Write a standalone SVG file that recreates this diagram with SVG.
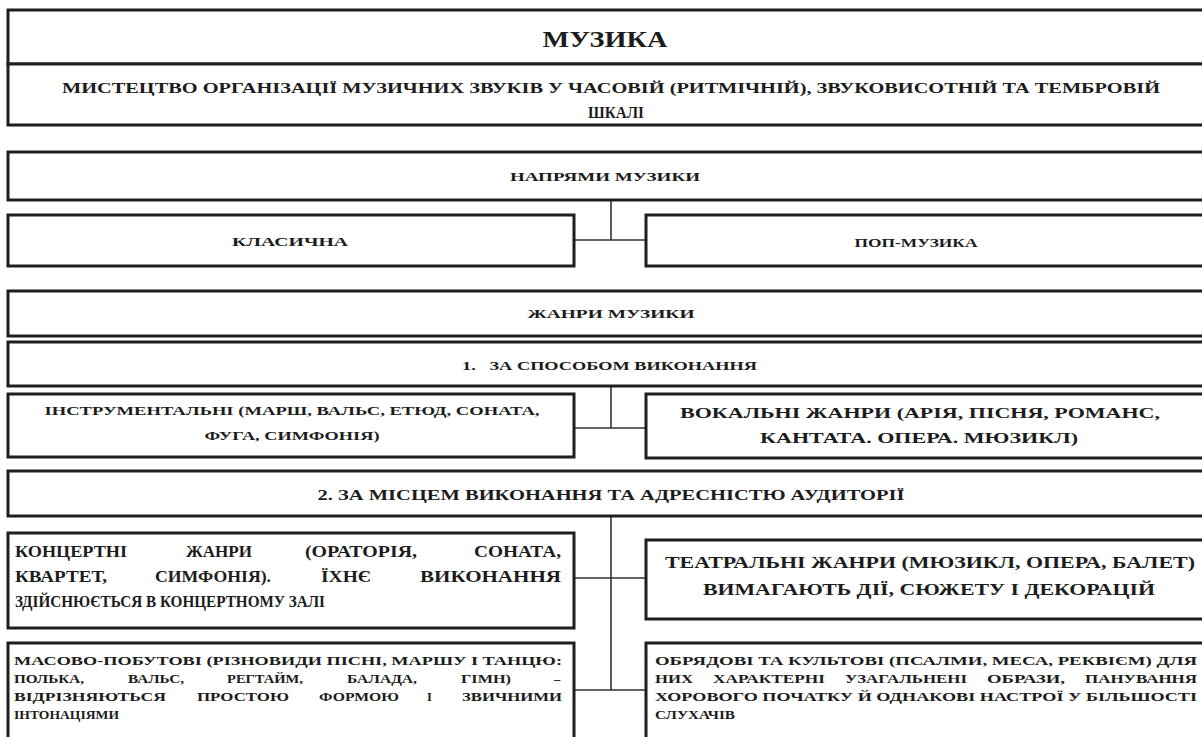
<svg xmlns="http://www.w3.org/2000/svg" width="1202" height="737" viewBox="0 0 1202 737">
<style>
.box{fill:#fff;stroke:#1e1e1e;stroke-width:3}
.con{fill:none;stroke:#333;stroke-width:1.6}
text{font-family:"Liberation Serif","Times New Roman",serif;font-weight:bold;fill:#1c1c1c}
.c{text-anchor:middle}
.k{font-size:16px}
.s{font-size:12.5px}
</style>
<rect width="1202" height="737" fill="#fff"/>
<g id="connectors">
<path class="con" d="M611 200V240M574 240H646M611 386V428M574 428H646M611 516V690M574 578H646M574 690H646"/>
</g>
<g id="muzyka">
<rect class="box" x="8" y="10" width="1204" height="54"/>
<text class="c" x="605" y="47" font-size="23" textLength="125" lengthAdjust="spacingAndGlyphs">МУЗИКА</text>
</g>
<g id="definition">
<rect class="box" x="8" y="64" width="1204" height="61"/>
<text class="c" x="611" y="93" font-size="15" textLength="1098" lengthAdjust="spacingAndGlyphs">МИСТЕЦТВО ОРГАНІЗАЦІЇ МУЗИЧНИХ ЗВУКІВ У ЧАСОВІЙ (РИТМІЧНІЙ), ЗВУКОВИСОТНІЙ ТА ТЕМБРОВІЙ</text>
<text class="c" x="616" y="118" font-size="16" textLength="56" lengthAdjust="spacingAndGlyphs">ШКАЛІ</text>
</g>
<g id="napriamy">
<rect class="box" x="8" y="152" width="1204" height="48"/>
<text class="c" x="605" y="181" font-size="13.5" textLength="190" lengthAdjust="spacingAndGlyphs">НАПРЯМИ МУЗИКИ</text>
</g>
<g id="klasychna">
<rect class="box" x="8" y="215" width="566" height="51"/>
<text class="c" x="290" y="246" font-size="13.5" textLength="116" lengthAdjust="spacingAndGlyphs">КЛАСИЧНА</text>
</g>
<g id="pop">
<rect class="box" x="646" y="215" width="566" height="51"/>
<text class="c" x="916" y="247" font-size="13.5" textLength="123" lengthAdjust="spacingAndGlyphs">ПОП-МУЗИКА</text>
</g>
<g id="zhanry">
<rect class="box" x="8" y="291" width="1204" height="45"/>
<text class="c" x="611" y="318" font-size="13.5" textLength="167" lengthAdjust="spacingAndGlyphs">ЖАНРИ МУЗИКИ</text>
</g>
<g id="sposib">
<rect class="box" x="8" y="342" width="1204" height="44"/>
<text x="462" y="370" font-size="13.5" textLength="295" lengthAdjust="spacingAndGlyphs" xml:space="preserve">1.   ЗА СПОСОБОМ ВИКОНАННЯ</text>
</g>
<g id="instrumentalni">
<rect class="box" x="8" y="394" width="566" height="63"/>
<text class="c" x="292" y="415" font-size="13.5" textLength="495" lengthAdjust="spacingAndGlyphs">ІНСТРУМЕНТАЛЬНІ (МАРШ, ВАЛЬС, ЕТЮД, СОНАТА,</text>
<text class="c" x="292" y="440" font-size="13.5" textLength="175" lengthAdjust="spacingAndGlyphs">ФУГА, СИМФОНІЯ)</text>
</g>
<g id="vokalni">
<rect class="box" x="646" y="394" width="566" height="64"/>
<text class="c" x="920" y="418" font-size="15" textLength="480" lengthAdjust="spacingAndGlyphs">ВОКАЛЬНІ ЖАНРИ (АРІЯ, ПІСНЯ, РОМАНС,</text>
<text class="c" x="919" y="443" font-size="15" textLength="318" lengthAdjust="spacingAndGlyphs">КАНТАТА. ОПЕРА. МЮЗИКЛ)</text>
</g>
<g id="mistse">
<rect class="box" x="8" y="471" width="1204" height="45"/>
<text class="c" x="611" y="500" font-size="14.5" textLength="587" lengthAdjust="spacingAndGlyphs">2. ЗА МІСЦЕМ ВИКОНАННЯ ТА АДРЕСНІСТЮ АУДИТОРІЇ</text>
</g>
<g id="kontsertni">
<rect class="box" x="8" y="533" width="566" height="95"/>
<text class="k" x="15" y="557" textLength="112" lengthAdjust="spacingAndGlyphs">КОНЦЕРТНІ</text>
<text class="k" x="186" y="557" textLength="66" lengthAdjust="spacingAndGlyphs">ЖАНРИ</text>
<text class="k" x="305" y="557" textLength="112" lengthAdjust="spacingAndGlyphs">(ОРАТОРІЯ,</text>
<text class="k" x="474" y="557" textLength="87" lengthAdjust="spacingAndGlyphs">СОНАТА,</text>
<text class="k" x="15" y="582" textLength="92" lengthAdjust="spacingAndGlyphs">КВАРТЕТ,</text>
<text class="k" x="155" y="582" textLength="116" lengthAdjust="spacingAndGlyphs">СИМФОНІЯ).</text>
<text class="k" x="321" y="582" textLength="50" lengthAdjust="spacingAndGlyphs">ЇХНЄ</text>
<text class="k" x="420" y="582" textLength="141" lengthAdjust="spacingAndGlyphs">ВИКОНАННЯ</text>
<text class="k" x="15" y="607" textLength="310" lengthAdjust="spacingAndGlyphs">ЗДІЙСНЮЄТЬСЯ В КОНЦЕРТНОМУ ЗАЛІ</text>
</g>
<g id="teatralni">
<rect class="box" x="646" y="540" width="566" height="79"/>
<text class="c" x="930" y="568" font-size="17.5" textLength="530" lengthAdjust="spacingAndGlyphs">ТЕАТРАЛЬНІ ЖАНРИ (МЮЗИКЛ, ОПЕРА, БАЛЕТ)</text>
<text class="c" x="929" y="595" font-size="17.5" textLength="452" lengthAdjust="spacingAndGlyphs">ВИМАГАЮТЬ ДІЇ, СЮЖЕТУ І ДЕКОРАЦІЙ</text>
</g>
<g id="masovo">
<rect class="box" x="8" y="643" width="566" height="110"/>
<text class="s" x="14" y="665" textLength="548" lengthAdjust="spacingAndGlyphs">МАСОВО-ПОБУТОВІ (РІЗНОВИДИ ПІСНІ, МАРШУ І ТАНЦЮ:</text>
<text class="s" x="14" y="683" textLength="70" lengthAdjust="spacingAndGlyphs">ПОЛЬКА,</text>
<text class="s" x="128" y="683" textLength="56" lengthAdjust="spacingAndGlyphs">ВАЛЬС,</text>
<text class="s" x="227" y="683" textLength="76" lengthAdjust="spacingAndGlyphs">РЕГТАЙМ,</text>
<text class="s" x="347" y="683" textLength="70" lengthAdjust="spacingAndGlyphs">БАЛАДА,</text>
<text class="s" x="461" y="683" textLength="50" lengthAdjust="spacingAndGlyphs">ГІМН)</text>
<text class="s" x="554" y="683">–</text>
<text class="s" x="14" y="701" textLength="152" lengthAdjust="spacingAndGlyphs">ВІДРІЗНЯЮТЬСЯ</text>
<text class="s" x="197" y="701" textLength="92" lengthAdjust="spacingAndGlyphs">ПРОСТОЮ</text>
<text class="s" x="319" y="701" textLength="80" lengthAdjust="spacingAndGlyphs">ФОРМОЮ</text>
<text class="s" x="427" y="701">І</text>
<text class="s" x="462" y="701" textLength="100" lengthAdjust="spacingAndGlyphs">ЗВИЧНИМИ</text>
<text class="s" x="14" y="719" textLength="105" lengthAdjust="spacingAndGlyphs">ІНТОНАЦІЯМИ</text>
</g>
<g id="obriadovi">
<rect class="box" x="646" y="643" width="566" height="110"/>
<text class="s" x="655" y="665" textLength="542" lengthAdjust="spacingAndGlyphs">ОБРЯДОВІ ТА КУЛЬТОВІ (ПСАЛМИ, МЕСА, РЕКВІЄМ) ДЛЯ</text>
<text class="s" x="655" y="683" textLength="38" lengthAdjust="spacingAndGlyphs">НИХ</text>
<text class="s" x="713" y="683" textLength="112" lengthAdjust="spacingAndGlyphs">ХАРАКТЕРНІ</text>
<text class="s" x="845" y="683" textLength="122" lengthAdjust="spacingAndGlyphs">УЗАГАЛЬНЕНІ</text>
<text class="s" x="987" y="683" textLength="78" lengthAdjust="spacingAndGlyphs">ОБРАЗИ,</text>
<text class="s" x="1085" y="683" textLength="112" lengthAdjust="spacingAndGlyphs">ПАНУВАННЯ</text>
<text class="s" x="655" y="701" textLength="542" lengthAdjust="spacingAndGlyphs">ХОРОВОГО ПОЧАТКУ Й ОДНАКОВІ НАСТРОЇ У БІЛЬШОСТІ</text>
<text class="s" x="655" y="719" textLength="80" lengthAdjust="spacingAndGlyphs">СЛУХАЧІВ</text>
</g>
</svg>
